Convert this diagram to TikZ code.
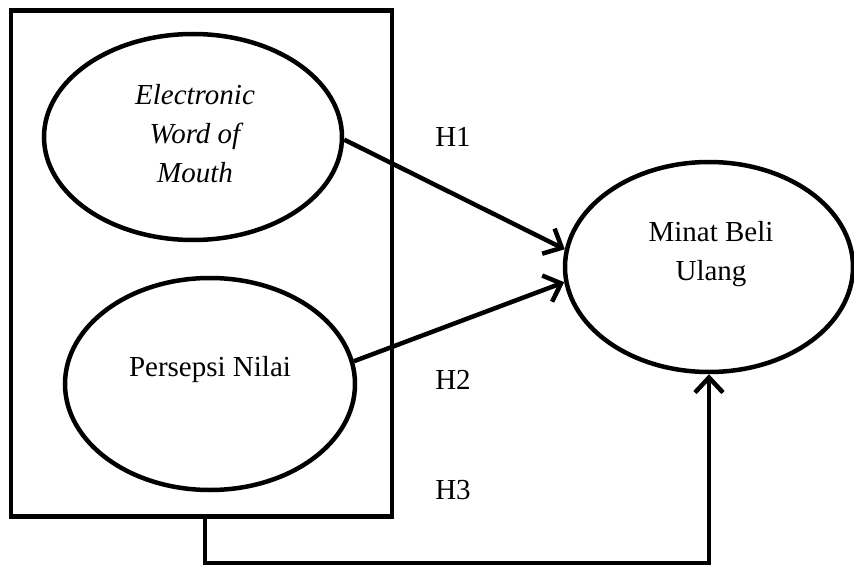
\documentclass[tikz,border=0pt]{standalone}
\usepackage{fontspec}
\setmainfont{Liberation Serif}
\usetikzlibrary{shapes.geometric,arrows.meta}
\begin{document}
\begin{tikzpicture}[x=1pt,y=-1pt,
  every node/.style={font=\fontsize{29}{39}\selectfont},
  var/.style={ellipse,draw,line width=4.5pt,inner sep=0pt},
  txt/.style={align=center,inner sep=0pt},
  link/.style={line width=4.5pt,-{Straight Barb[length=15pt,width=28pt,line width=4.5pt]}},
  lbl/.style={inner sep=0pt}]
\useasboundingbox (0,0) rectangle (854,567);
\node[draw,line width=4.5pt,minimum width=381pt,minimum height=506pt,inner sep=0pt] (box) at (201.5,263.5) {};
\node[var,minimum width=298pt,minimum height=206pt] (e1) at (193,137) {};
\node[var,minimum width=290pt,minimum height=212pt] (e2) at (210,384) {};
\node[var,minimum width=288pt,minimum height=210pt] (e3) at (709,267) {};
\node[txt] (t1) at (195,134) {\itshape Electronic\\\itshape Word of\\\itshape Mouth};
\node[txt] (t2) at (210,370) {Persepsi Nilai};
\node[txt] (t3) at (711,254) {Minat Beli\\Ulang};
\coordinate (c) at (205,563);
\draw[link] (e1.-1) -- (e3.173);
\draw[link] (e2.9) -- (e3.186);
\draw[link] (box.south -| c) -- (c) -| (e3.south);
\node[lbl] (h1) at (453,137) {H1};
\node[lbl] (h2) at (453,380) {H2};
\node[lbl] (h3) at (453,490) {H3};
\end{tikzpicture}
\end{document}
